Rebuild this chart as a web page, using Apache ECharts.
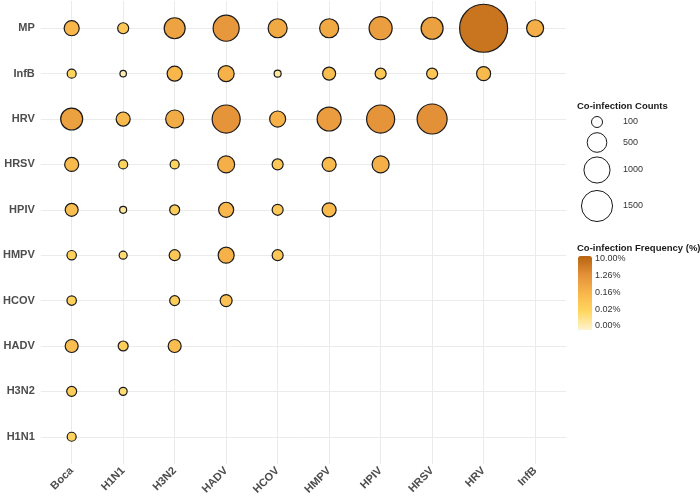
<!DOCTYPE html>
<html>
<head>
<meta charset="utf-8">
<script src="https://cdn.jsdelivr.net/npm/echarts@6/dist/echarts.min.js"></script>
<style>
html,body{margin:0;padding:0;background:#fff;}
#chart{width:700px;height:501px;}
</style>
</head>
<body>
<div id="chart"></div>
<script>
// Categories
var xCats = ['Boca','H1N1','H3N2','HADV','HCOV','HMPV','HPIV','HRSV','HRV','InfB'];
var yCats = ['H1N1','H3N2','HADV','HCOV','HMPV','HPIV','HRSV','HRV','InfB','MP']; // bottom -> top

// Co-infection counts per row (row = y category), columns follow xCats
var rowMP   = [250, 100, 590, 990, 460, 460, 740, 660, 3950, 345];
var rowInfB = [51, 12, 250, 295, 18, 165, 100, 100, 205];
var rowHRV  = [660, 205, 400, 1180, 295, 815, 1180, 1380];
var rowHRSV = [205, 51, 51, 345, 100, 205, 345];
var rowHPIV = [165, 18, 73, 250, 100, 205];
var rowHMPV = [60, 33, 100, 295, 100];
var rowHCOV = [60, null, 73, 130];
var rowHADV = [165, 73, 165];
var rowH3N2 = [73, 33];
var rowH1N1 = [51];

// Legend
var sizeLegendValues = [100, 500, 1000, 1500];
var freqLegendLabels = ['10.00%', '1.26%', '0.16%', '0.02%', '0.00%'];

var rows = {
  'MP': rowMP, 'InfB': rowInfB, 'HRV': rowHRV, 'HRSV': rowHRSV, 'HPIV': rowHPIV,
  'HMPV': rowHMPV, 'HCOV': rowHCOV, 'HADV': rowHADV, 'H3N2': rowH3N2, 'H1N1': rowH1N1
};

function sizeOf(v){ return 4 + 0.7 * Math.sqrt(v); }

var data = [];
yCats.forEach(function(yc, yi){
  var r = rows[yc];
  r.forEach(function(v, xi){
    if (v == null) return;
    data.push([xi, yi, Math.log10(v), v]);
  });
});

var idx = xCats.map(function(_, i){ return i; });
var idy = yCats.map(function(_, i){ return i; });

var FONT = 'Liberation Sans, Arial, sans-serif';
var chart = echarts.init(document.getElementById('chart'), null, {renderer:'canvas'});

var graphics = [];
graphics.push({type:'text', left:577, top:101, style:{text:'Co-infection Counts', font:'bold 9.5px ' + FONT, fill:'#1a1a1a'}});
var legY = [122, 142.5, 170, 206];
sizeLegendValues.forEach(function(v, i){
  graphics.push({type:'circle', shape:{cx:597, cy:legY[i], r:sizeOf(v)/2}, style:{fill:'#fff', stroke:'#1a1a1a', lineWidth:1}});
  graphics.push({type:'text', x:623, y:legY[i], style:{text:String(v), font:'9px ' + FONT, fill:'#333', textVerticalAlign:'middle', verticalAlign:'middle'}});
});
graphics.push({type:'text', left:577, top:243, style:{text:'Co-infection Frequency (%)', font:'bold 9.5px ' + FONT, fill:'#1a1a1a'}});
freqLegendLabels.forEach(function(t, i){
  graphics.push({type:'text', x:595, y:259 + i*16.7, style:{text:t, font:'9px ' + FONT, fill:'#333', verticalAlign:'middle', textVerticalAlign:'middle'}});
});

var option = {
  backgroundColor:'#fff',
  animation:false,
  grid:{left:40, right:134, top:1, bottom:37},
  xAxis:{
    type:'value', min:-0.6, max:9.6,
    axisLine:{show:false},
    axisTick:{show:false, customValues:idx},
    axisLabel:{customValues:idx, rotate:45, margin:5, fontFamily:FONT, fontWeight:'bold', fontSize:11, color:'#4d4d4d',
      formatter:function(v){ return xCats[Math.round(v)] || ''; }},
    splitLine:{show:true, lineStyle:{color:'#ebebeb', width:1}}
  },
  yAxis:{
    type:'value', min:-0.6, max:9.6,
    axisLine:{show:false},
    axisTick:{show:false, customValues:idy},
    axisLabel:{customValues:idy, margin:6, fontFamily:FONT, fontWeight:'bold', fontSize:11, color:'#4d4d4d',
      formatter:function(v){ return yCats[Math.round(v)] || ''; }},
    splitLine:{show:true, lineStyle:{color:'#ebebeb', width:1}}
  },
  visualMap:{
    type:'continuous', show:true, dimension:2, min:0.9, max:3.9,
    left:578, top:256, itemWidth:14, itemHeight:74, padding:0,
    calculable:false, hoverLink:false,
    inRange:{color:['#FFF4CF','#FFD660','#F8B64B','#E39038','#B7630F']},
    seriesIndex:0
  },
  series:[{
    type:'scatter',
    data:data,
    symbolSize:function(val){ return sizeOf(val[3]); },
    itemStyle:{borderColor:'#1a1a1a', borderWidth:1.2, opacity:1}
  }],
  graphic:graphics
};
chart.setOption(option);
</script>
</body>
</html>
